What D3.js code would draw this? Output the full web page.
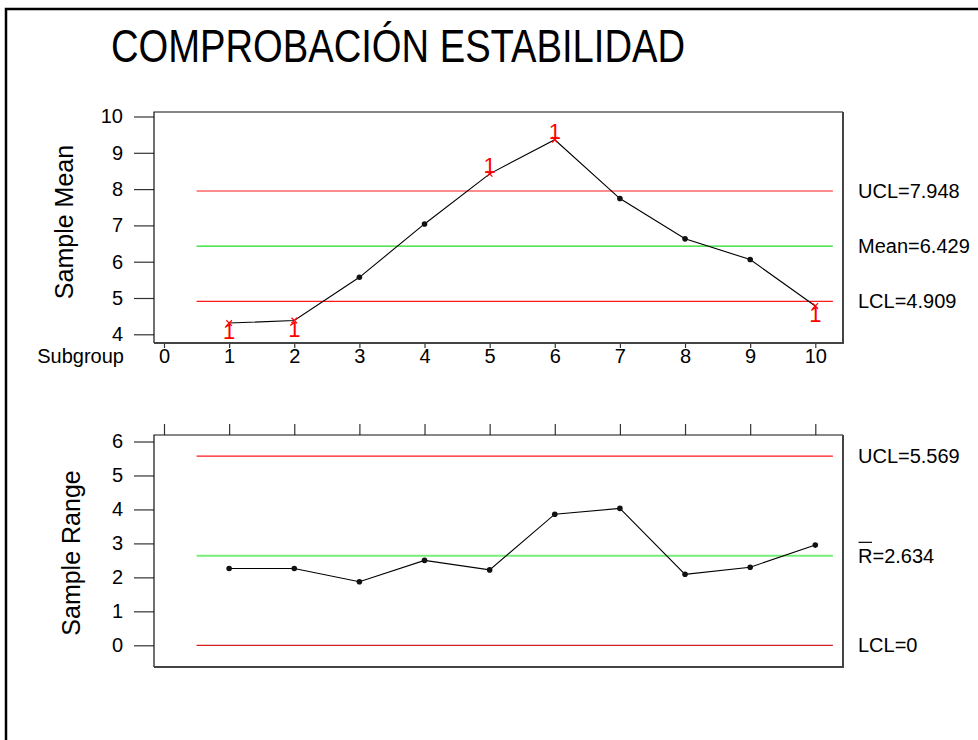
<!DOCTYPE html>
<html>
<head>
<meta charset="utf-8">
<script src="https://cdn.jsdelivr.net/npm/d3@7"></script>
<style>
  html, body { margin: 0; padding: 0; background: #fff; }
  svg { display: block; }
  text { font-family: "Liberation Sans", Arial, sans-serif; fill: #000; }
</style>
</head>
<body>
<svg id="chart" width="978" height="740"></svg>
<script>
// Subgroup numbers and the plotted statistics
const subgroups = [1, 2, 3, 4, 5, 6, 7, 8, 9, 10];
const xTickValues = [0, 1, 2, 3, 4, 5, 6, 7, 8, 9, 10];
const sampleMeans = [4.31, 4.38, 5.57, 7.04, 8.42, 9.36, 7.74, 6.63, 6.06, 4.78];
const sampleRanges = [2.26, 2.26, 1.87, 2.50, 2.22, 3.86, 4.03, 2.09, 2.30, 2.95];

// Control limits: upper, centre, lower
const meanLimits = [7.948, 6.429, 4.909];
const meanLimitLabels = ["UCL=7.948", "Mean=6.429", "LCL=4.909"];
const rangeLimits = [5.569, 2.634, 0];
const rangeLimitLabels = ["UCL=5.569", "=2.634", "LCL=0"];

const meanTicks = [4, 5, 6, 7, 8, 9, 10];
const rangeTicks = [0, 1, 2, 3, 4, 5, 6];

const titleText = "COMPROBACIÓN ESTABILIDAD";

const svg = d3.select("#chart");

// outer border
svg.append("path")
  .attr("d", "M6,742 L6,9 L980,9")
  .attr("fill", "none").attr("stroke", "#000").attr("stroke-width", 2.5);

// title
svg.append("text")
  .attr("x", 111).attr("y", 62)
  .attr("font-size", 46)
  .attr("textLength", 574).attr("lengthAdjust", "spacingAndGlyphs")
  .text(titleText);

const frameLeft = 154, frameRight = 843;
const x = d3.scaleLinear().domain([0, 10]).range([164, 815.3]);
const limitStart = 0.5, limitEnd = 10.27;
const limitColors = ["#ff1a1a", "#22dd22", "#ff1a1a"];

function drawPanel(opts) {
  const { y, top, bottom, values, limits, labels, ticks, yTitle, titleY, bottomLabel, lowLimitColor, centerWidth, centerColor } = opts;
  const g = svg.append("g");

  // y axis with long outward ticks
  const yAxis = d3.axisLeft(y).tickValues(ticks).tickSize(20).tickPadding(11).tickFormat(d3.format("d"));
  const ga = g.append("g").attr("transform", `translate(${frameLeft},0)`).call(yAxis);
  ga.select(".domain").remove();
  ga.selectAll(".tick line").attr("stroke", "#333").attr("stroke-width", 1.2);
  ga.selectAll(".tick text").attr("font-size", 20).attr("fill", "#000")
    .attr("font-family", '"Liberation Sans", Arial, sans-serif');

  // x ticks
  if (bottomLabel) {
    const xAxis = d3.axisBottom(x).tickValues(xTickValues).tickSize(5).tickPadding(0).tickFormat(d3.format("d"));
    const gx = g.append("g").attr("transform", `translate(0,${bottom})`).call(xAxis);
    gx.select(".domain").remove();
    gx.selectAll(".tick line").attr("stroke", "#333").attr("stroke-width", 1.2);
    gx.selectAll(".tick text").attr("font-size", 20).attr("fill", "#000")
      .attr("dy", null).attr("y", 20)
      .attr("font-family", '"Liberation Sans", Arial, sans-serif');
    g.append("text").attr("x", 124).attr("y", bottom + 20)
      .attr("text-anchor", "end").attr("font-size", 20).text("Subgroup");
  } else {
    const xAxis = d3.axisTop(x).tickValues(xTickValues).tickSize(11).tickFormat("");
    const gx = g.append("g").attr("transform", `translate(0,${top})`).call(xAxis);
    gx.select(".domain").remove();
    gx.selectAll(".tick line").attr("stroke", "#333").attr("stroke-width", 1.2);
  }

  // frame
  g.append("path").attr("d", `M${frameLeft},${bottom} L${frameLeft},${top} L${frameRight},${top}`)
    .attr("fill", "none").attr("stroke", "#111").attr("stroke-width", 1.2);
  g.append("path").attr("d", `M${frameRight},${top} L${frameRight},${bottom} L${frameLeft},${bottom}`)
    .attr("fill", "none").attr("stroke", "#444").attr("stroke-width", 2);

  // control limit lines
  limits.forEach((v, i) => {
    let col = limitColors[i], w = 1.2;
    if (i === 1) { col = centerColor; w = centerWidth; }
    if (i === 2 && lowLimitColor) col = lowLimitColor;
    g.append("line")
      .attr("x1", x(limitStart)).attr("x2", x(limitEnd))
      .attr("y1", y(v)).attr("y2", y(v))
      .attr("stroke", col).attr("stroke-width", w);
  });

  // limit labels
  labels.forEach((t, i) => {
    const tx = g.append("text").attr("x", 858).attr("y", y(limits[i]) + 7).attr("font-size", 20);
    if (opts.barLabel && i === 1) {
      tx.append("tspan").text("R");
      tx.append("tspan").text(t);
      const rw = tx.node().getSubStringLength(0, 1);
      g.append("line").attr("x1", 858.5).attr("x2", 858 + rw - 0.5)
        .attr("y1", y(limits[i]) - 13.5).attr("y2", y(limits[i]) - 13.5)
        .attr("stroke", "#000").attr("stroke-width", 1.2);
    } else {
      tx.text(t);
    }
  });

  // series line
  const line = d3.line().x((d, i) => x(subgroups[i])).y(d => y(d));
  g.append("path").datum(values).attr("d", line)
    .attr("fill", "none").attr("stroke", "#000").attr("stroke-width", 1.1);

  const ucl = limits[0], lcl = limits[2];
  const pts = values.map((v, i) => ({ s: subgroups[i], v, out: v > ucl || v < lcl, high: v > ucl }));

  // in-control points
  g.selectAll("circle.pt").data(pts.filter(p => !p.out)).join("circle")
    .attr("class", "pt")
    .attr("cx", p => x(p.s)).attr("cy", p => y(p.v)).attr("r", 2.8)
    .attr("fill", "#111");

  // out-of-control points and test flags
  const outs = pts.filter(p => p.out);
  g.selectAll("path.oc").data(outs).join("path")
    .attr("class", "oc")
    .attr("transform", p => `translate(${x(p.s)},${y(p.v)})`)
    .attr("d", d3.symbol(d3.symbolX, 22))
    .attr("fill", "none").attr("stroke", "#ff0000").attr("stroke-width", 1.2);
  g.selectAll("text.flag").data(outs).join("text")
    .attr("class", "flag")
    .attr("x", p => x(p.s)).attr("y", p => p.high ? y(p.v) - 0.5 : y(p.v) + 16)
    .attr("text-anchor", "middle").attr("font-size", 22)
    .style("fill", "#ff0000")
    .text("1");

  // y axis title
  g.append("text")
    .attr("transform", `translate(${opts.titleX},${titleY}) rotate(-90)`)
    .attr("text-anchor", "middle").attr("font-size", 25)
    .text(yTitle);
}

drawPanel({
  y: d3.scaleLinear().domain([4, 10]).range([334.3, 116.5]),
  top: 112, bottom: 343,
  values: sampleMeans, limits: meanLimits, labels: meanLimitLabels,
  ticks: meanTicks, yTitle: "Sample Mean", titleX: 73, titleY: 222,
  bottomLabel: true, centerColor: "#22dd22", centerWidth: 1.1
});

drawPanel({
  y: d3.scaleLinear().domain([0, 6]).range([645.3, 441.5]),
  top: 435, bottom: 667,
  values: sampleRanges, limits: rangeLimits, labels: rangeLimitLabels,
  ticks: rangeTicks, yTitle: "Sample Range", titleX: 80, titleY: 553,
  bottomLabel: false, barLabel: true, lowLimitColor: "#d02020",
  centerColor: "#77ee77", centerWidth: 2
});
</script>
</body>
</html>
